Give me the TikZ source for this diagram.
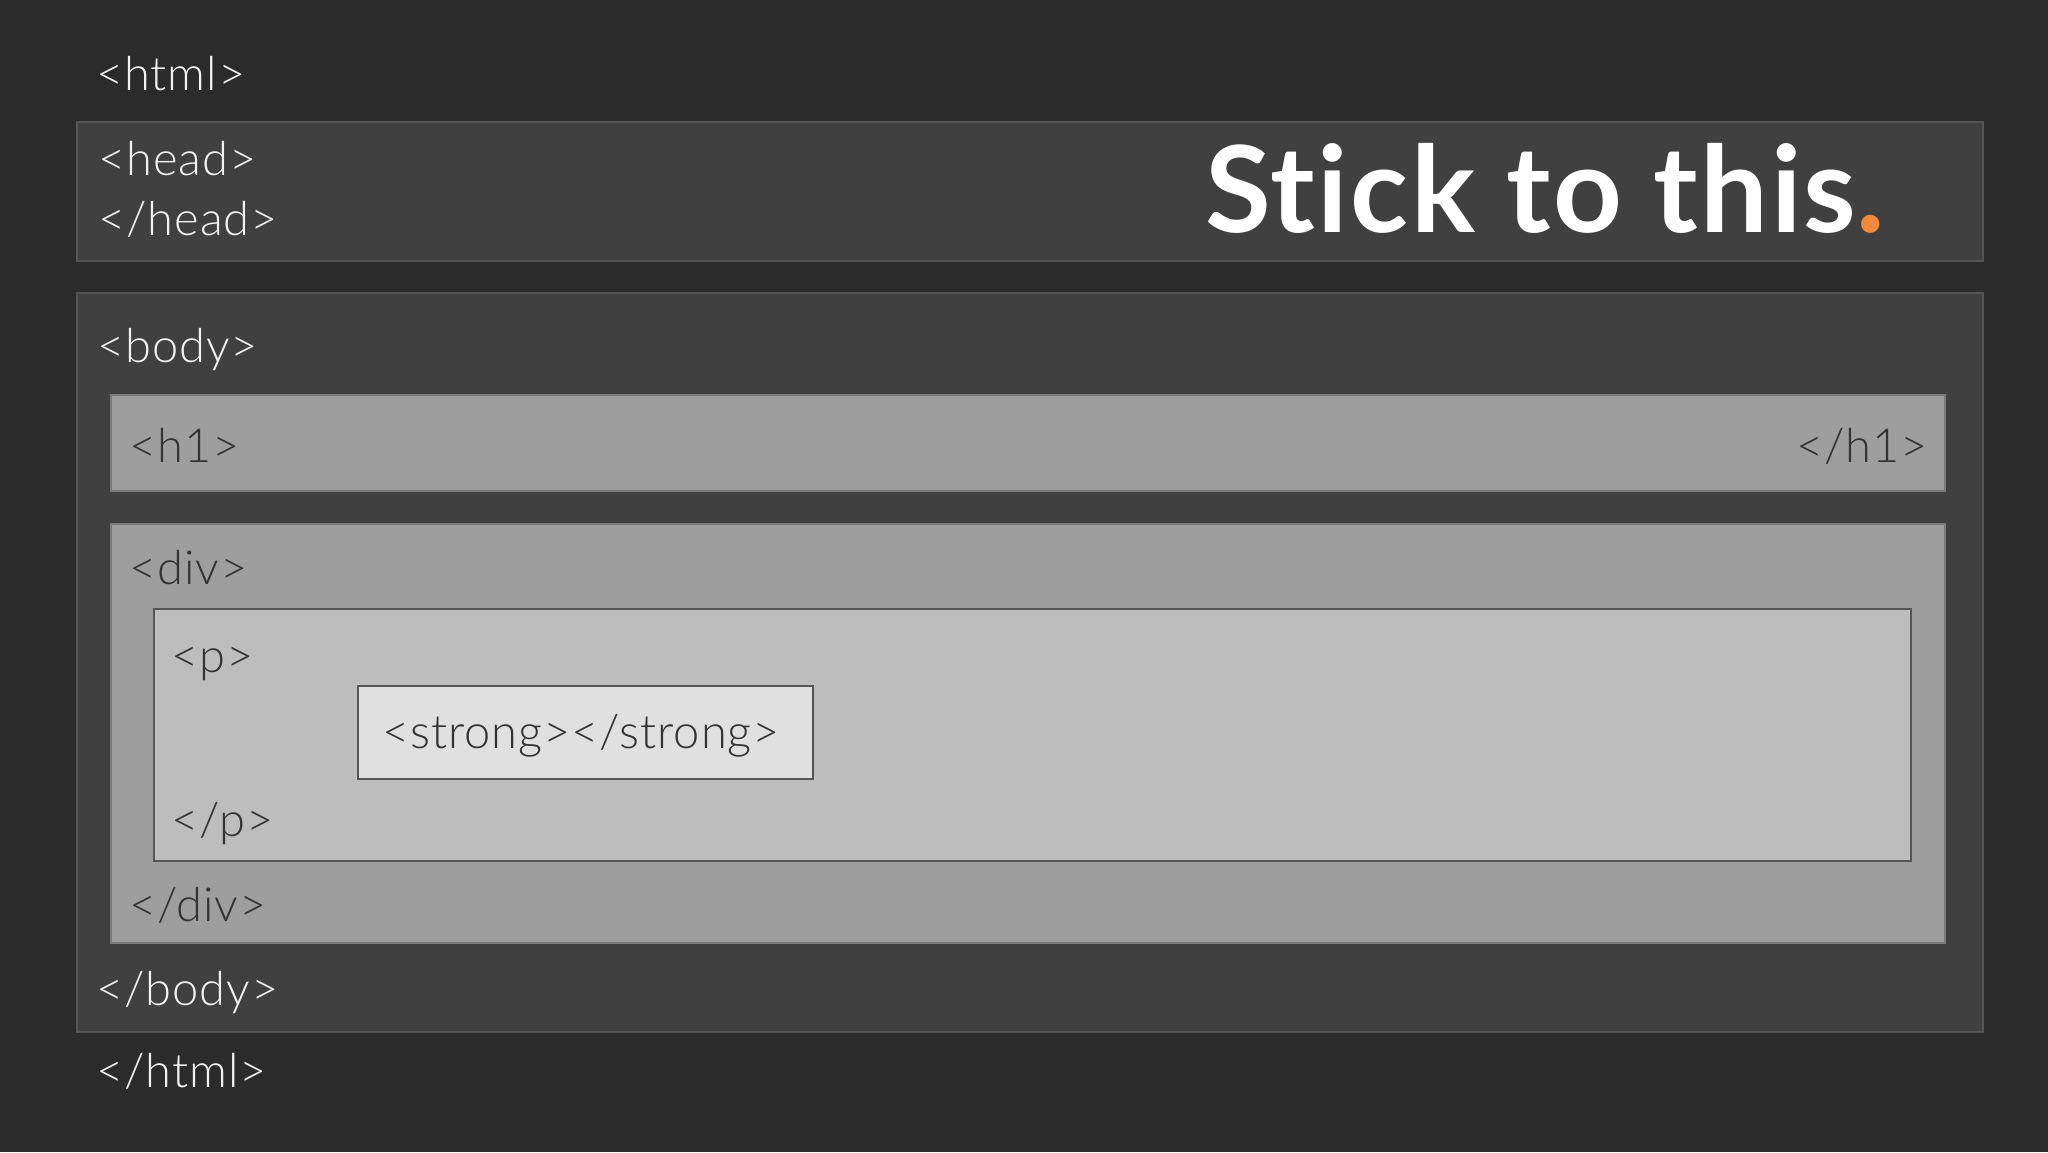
\documentclass[tikz,border=0pt]{standalone}
\usepackage{fontspec}
\setmainfont{Lato}[UprightFont={* Light},BoldFont={* Bold},LetterSpace=2]
\newfontfamily\titlefont{Lato}[UprightFont={* Bold},Ligatures=NoCommon,LetterSpace=2]
\definecolor{bgc}{HTML}{2B2B2B}
\definecolor{darkbox}{HTML}{404040}
\definecolor{darkedge}{HTML}{555555}
\definecolor{midbox}{HTML}{9E9E9E}
\definecolor{midedge}{HTML}{7A7A7A}
\definecolor{lightbox}{HTML}{BDBDBD}
\definecolor{lightedge}{HTML}{555555}
\definecolor{palebox}{HTML}{E0E0E0}
\definecolor{lighttext}{HTML}{F2F2F2}
\definecolor{darktext}{HTML}{333333}
\definecolor{accent}{HTML}{F08A3C}
\tikzset{
  outerbox/.style={fill=darkbox,draw=darkedge,line width=2pt},
  midbox/.style={fill=midbox,draw=midedge,line width=2pt},
  innerbox/.style={fill=lightbox,draw=lightedge,line width=2pt},
  strongbox/.style={fill=palebox,draw=lightedge,line width=2pt},
  tagl/.style={anchor=base west,inner sep=0pt,text=lighttext,font=\fontsize{47}{50}\selectfont},
  tagd/.style={anchor=base west,inner sep=0pt,text=darktext,font=\fontsize{47}{50}\selectfont},
}
\begin{document}
\begin{tikzpicture}[x=1pt,y=-1pt]
\fill[bgc] (0,0) rectangle (2048,1152);
\useasboundingbox (0,0) rectangle (2048,1152);
% boxes
\draw[outerbox] (77,122) rectangle (1983,261);
\draw[outerbox] (77,293) rectangle (1983,1032);
\draw[midbox] (111,395) rectangle (1945,491);
\draw[midbox] (111,524) rectangle (1945,943);
\draw[innerbox] (154,609) rectangle (1911,861);
\draw[strongbox] (358,686) rectangle (813,779);
% texts
\node[tagl] (html) at (96,90) {<html>};
\node[tagl] (head) at (98,175) {<head>};
\node[tagl] (headc) at (98,235) {</head>};
\node[anchor=base west,inner sep=0pt,text=white,font=\titlefont\fontsize{120}{130}\selectfont] (title) at (1205,232) {Stick to this\textcolor{accent}{.}};
\node[tagl] (body) at (97,362) {<body>};
\node[tagd] (h1) at (129,462) {<h1>};
\node[tagd,anchor=base east] (h1c) at (1928,462) {</h1>};
\node[tagd] (div) at (129,584) {<div>};
\node[tagd] (p) at (171,672) {<p>};
\node[tagd] (strong) at (382,748) {<strong></strong>};
\node[tagd] (pc) at (171,836) {</p>};
\node[tagd] (divc) at (129,921) {</div>};
\node[tagl] (bodyc) at (96,1005) {</body>};
\node[tagl] (htmlc) at (96,1087) {</html>};
\end{tikzpicture}
\end{document}
